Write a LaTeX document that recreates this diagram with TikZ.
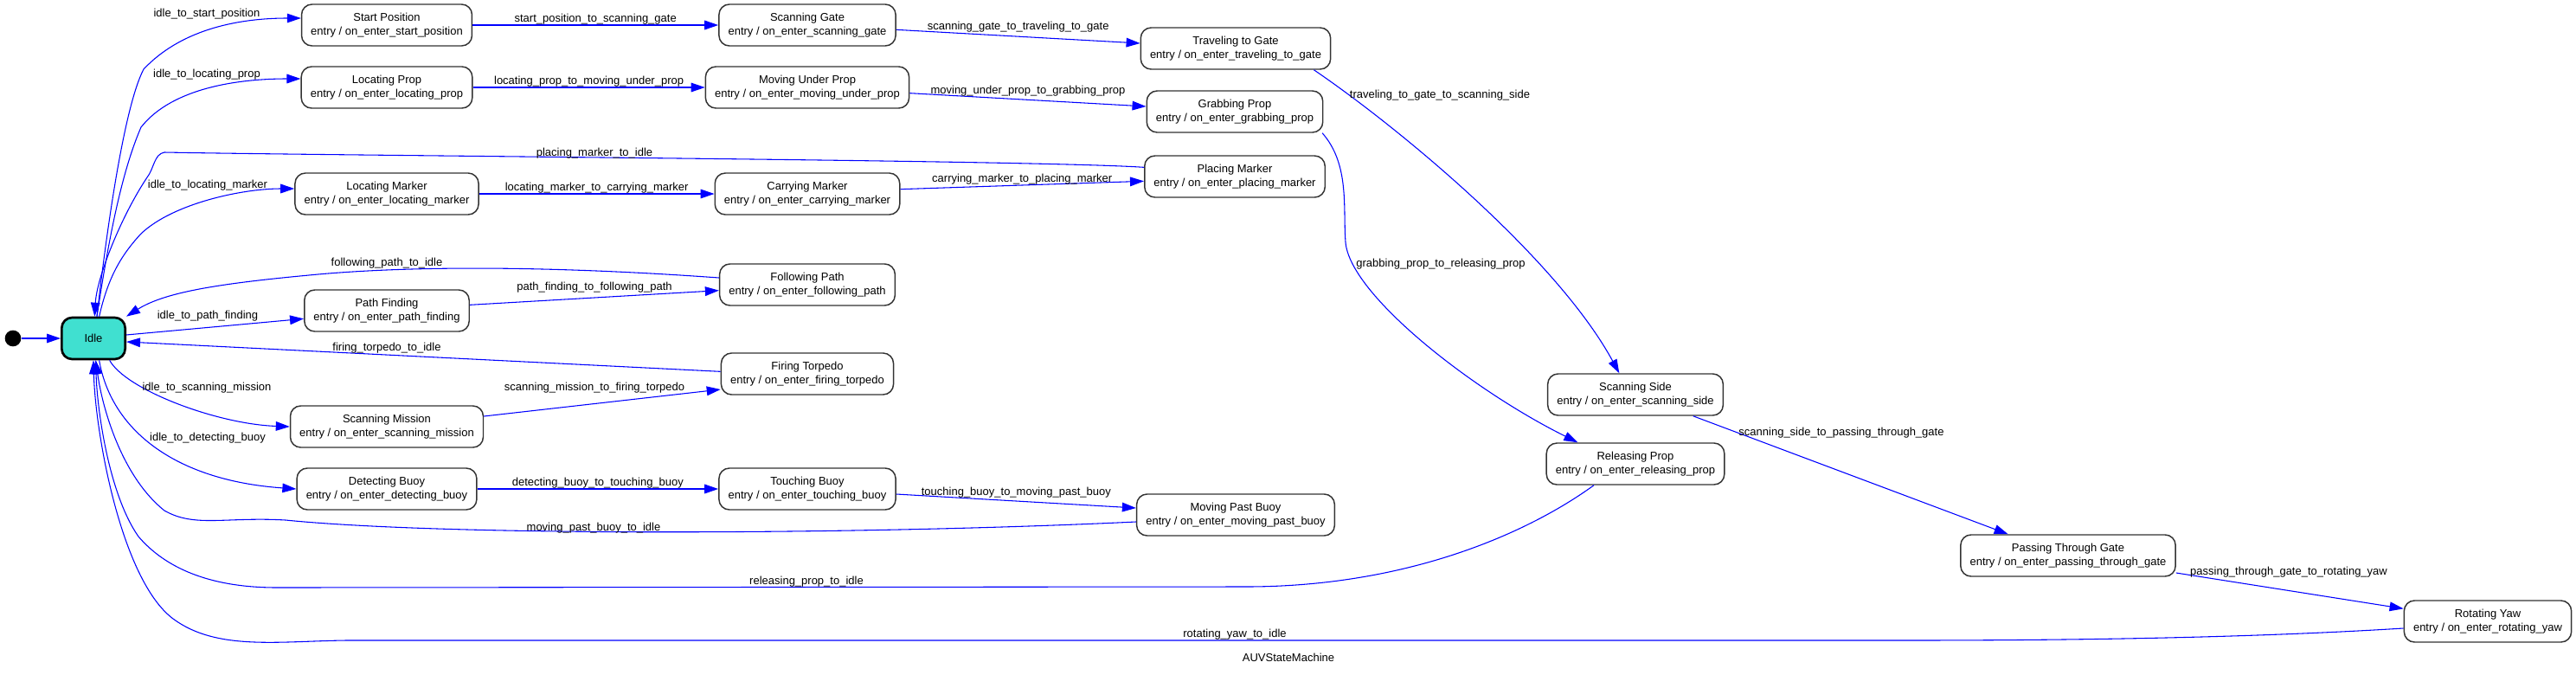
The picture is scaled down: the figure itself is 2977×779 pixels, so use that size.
\documentclass[tikz,border=0pt]{standalone}
\usepackage{fontspec}
\setmainfont{Liberation Sans}
\usepackage{tikz}
\usetikzlibrary{arrows.meta, positioning}
\definecolor{edgeBlue}{RGB}{0, 0, 255}
\definecolor{idleTurq}{RGB}{64, 224, 208}

\begin{document}
\begin{tikzpicture}[x=0.75pt, y=-0.75pt,
  st/.style={rectangle, rounded corners=9pt, draw=black!80, line width=1.1pt,
             fill=white, minimum height=36pt, inner xsep=8pt,
             align=center, font=\fontsize{9.75}{12}\selectfont},
  idlest/.style={st, fill=idleTurq, draw=black, line width=2pt, minimum width=55pt},
  initdot/.style={circle, fill=black, minimum size=14pt, inner sep=0pt},
  msg/.style={font=\fontsize{9.75}{12}\selectfont, text=black, inner sep=0.5pt},
  arr/.style={-{Triangle[length=12pt, width=8pt]}, edgeBlue, line width=0.8pt},
]
  \useasboundingbox (0,0) rectangle (2977,779);

  % States
  \node[initdot] (init) at (15,391) {};
  \node[idlest] (idle) at (108,391) {Idle};

  \node[st] (startpos)    at (447,29)  {Start Position\\entry / on\_enter\_start\_position};
  \node[st] (locprop)     at (447,101) {Locating Prop\\entry / on\_enter\_locating\_prop};
  \node[st] (locmarker)   at (447,224) {Locating Marker\\entry / on\_enter\_locating\_marker};
  \node[st] (pathfind)    at (447,359) {Path Finding\\entry / on\_enter\_path\_finding};
  \node[st] (scanmission) at (447,493) {Scanning Mission\\entry / on\_enter\_scanning\_mission};
  \node[st] (detbuoy)     at (447,565) {Detecting Buoy\\entry / on\_enter\_detecting\_buoy};

  \node[st] (scangate)    at (933,29)  {Scanning Gate\\entry / on\_enter\_scanning\_gate};
  \node[st] (moveunder)   at (933,101) {Moving Under Prop\\entry / on\_enter\_moving\_under\_prop};
  \node[st] (carrymarker) at (933,224) {Carrying Marker\\entry / on\_enter\_carrying\_marker};
  \node[st] (followpath)  at (933,329) {Following Path\\entry / on\_enter\_following\_path};
  \node[st] (firetorp)    at (933,432) {Firing Torpedo\\entry / on\_enter\_firing\_torpedo};
  \node[st] (touchbuoy)   at (933,565) {Touching Buoy\\entry / on\_enter\_touching\_buoy};

  \node[st] (travelgate)  at (1428,56)  {Traveling to Gate\\entry / on\_enter\_traveling\_to\_gate};
  \node[st] (grabprop)    at (1427,129) {Grabbing Prop\\entry / on\_enter\_grabbing\_prop};
  \node[st] (placemarker) at (1427,204) {Placing Marker\\entry / on\_enter\_placing\_marker};
  \node[st] (movepast)    at (1428,595) {Moving Past Buoy\\entry / on\_enter\_moving\_past\_buoy};

  \node[st] (scanside)    at (1890,456) {Scanning Side\\entry / on\_enter\_scanning\_side};
  \node[st] (releaseprop) at (1890,536) {Releasing Prop\\entry / on\_enter\_releasing\_prop};
  \node[st] (passgate)    at (2390,642) {Passing Through Gate\\entry / on\_enter\_passing\_through\_gate};
  \node[st] (rotyaw)      at (2875,718) {Rotating Yaw\\entry / on\_enter\_rotating\_yaw};

  \node[msg] (title) at (1489,760) {AUVStateMachine};

  % Out of Idle
  \draw[arr] (init) -- (idle);
  \draw[arr] ([xshift=3pt]idle.north) .. controls (125,250) and (145,120) .. (166,80)
    .. controls (215,28) and (290,21) .. ([yshift=6pt]startpos.west);
  \draw[arr] ([xshift=3pt]idle.north) .. controls (125,280) and (140,200) .. (163,147)
    .. controls (200,100) and (280,91) .. ([yshift=7.5pt]locprop.west);
  \draw[arr] ([xshift=5pt]idle.north) .. controls (125,320) and (140,295) .. (163,270)
    .. controls (200,235) and (280,218) .. ([yshift=4.5pt]locmarker.west);
  \draw[arr] ([yshift=3pt]idle.east) -- ([yshift=-7pt]pathfind.west);
  \draw[arr] ([xshift=14pt]idle.south) .. controls (145,450) and (250,490) .. (scanmission.west);
  \draw[arr] ([xshift=5pt]idle.south) .. controls (128,495) and (200,555) .. (detbuoy.west);

  % Chains
  \draw[arr] (startpos) -- node[msg, above]{start\_position\_to\_scanning\_gate} (scangate);
  \draw[arr] ([yshift=-4pt]scangate.east) -- node[msg, above=3pt]{scanning\_gate\_to\_traveling\_to\_gate} ([yshift=4.5pt]travelgate.west);
  \draw[arr] (locprop) -- node[msg, above]{locating\_prop\_to\_moving\_under\_prop} (moveunder);
  \draw[arr] ([yshift=-5pt]moveunder.east) -- node[msg, above=2pt]{moving\_under\_prop\_to\_grabbing\_prop} ([yshift=4.5pt]grabprop.west);
  \draw[arr] (locmarker) -- node[msg, above]{locating\_marker\_to\_carrying\_marker} (carrymarker);
  \draw[arr] ([yshift=4pt]carrymarker.east) -- node[msg, above]{carrying\_marker\_to\_placing\_marker} ([yshift=-4pt]placemarker.west);
  \draw[arr] ([yshift=5pt]pathfind.east) -- ([yshift=-5pt]followpath.west);
  \draw[arr] ([yshift=9pt]scanmission.east) -- ([yshift=-13.5pt]firetorp.west);
  \draw[arr] (detbuoy) -- node[msg, above]{detecting\_buoy\_to\_touching\_buoy} (touchbuoy);
  \draw[arr] ([yshift=-4.5pt]touchbuoy.east) -- node[msg, above=2pt]{touching\_buoy\_to\_moving\_past\_buoy} ([yshift=6pt]movepast.west);

  \draw[arr] ([xshift=-15pt]travelgate.south east) .. controls (1620,150) and (1800,300) .. ([xshift=-14pt]scanside.north);
  \draw[arr] ([xshift=-1pt]grabprop.south east) .. controls (1560,190) and (1552,240) .. (1555,280)
    .. controls (1560,340) and (1700,450) .. ([xshift=-50pt]releaseprop.north);
  \draw[arr] ([xshift=50pt]scanside.south) -- ([xshift=-52pt]passgate.north);
  \draw[arr] ([yshift=-15pt]passgate.east) -- ([yshift=11pt]rotyaw.west);

  % Back to Idle
  \draw[arr] ([yshift=8pt]placemarker.west) .. controls (1200,185) and (400,180) .. (190,176)
    .. controls (178,178) and (178,195) .. (170,205) .. controls (140,250) and (112,320) .. ([xshift=1pt]idle.north);
  \draw[arr] ([yshift=6pt]followpath.west) .. controls (650,308) and (480,306) .. (357,318)
    .. controls (250,328) and (190,338) .. (idle.north east);
  \draw[arr] ([yshift=2pt]firetorp.west) -- ([yshift=-3pt]idle.east);
  \draw[arr] ([yshift=-6pt]movepast.west) .. controls (1000,618) and (520,620) .. (330,601)
    .. controls (260,597) and (225,610) .. (190,590) .. controls (140,550) and (118,470) .. ([xshift=2pt]idle.south);
  \draw[arr] ([xshift=-36pt]releaseprop.south) .. controls (1760,620) and (1620,678) .. (1440,678) -- (320,679)
    .. controls (240,679) and (190,655) .. (160,620) .. controls (125,570) and (112,470) .. ([xshift=2pt]idle.south);
  \draw[arr] ([yshift=-6pt]rotyaw.west) .. controls (2600,737) and (2400,740) .. (2200,740) -- (400,740)
    .. controls (320,741) and (250,752) .. (200,715) .. controls (140,670) and (110,500) .. (idle.south);

  % Transition labels
  \node[msg] (l-idle-sp) at (239,16)  {idle\_to\_start\_position};
  \node[msg] (l-idle-lp) at (239,86)  {idle\_to\_locating\_prop};
  \node[msg] (l-idle-lm) at (240,214) {idle\_to\_locating\_marker};
  \node[msg] (l-idle-pf) at (240,365) {idle\_to\_path\_finding};
  \node[msg] (l-idle-sm) at (239,448) {idle\_to\_scanning\_mission};
  \node[msg] (l-idle-db) at (240,506) {idle\_to\_detecting\_buoy};
  \node[msg] (l-pm-idle) at (687,177) {placing\_marker\_to\_idle};
  \node[msg] (l-fp-idle) at (447,304) {following\_path\_to\_idle};
  \node[msg] (l-pf-fp)   at (687,332) {path\_finding\_to\_following\_path};
  \node[msg] (l-ft-idle) at (447,402) {firing\_torpedo\_to\_idle};
  \node[msg] (l-sm-ft)   at (687,448) {scanning\_mission\_to\_firing\_torpedo};
  \node[msg] (l-mp-idle) at (686,610) {moving\_past\_buoy\_to\_idle};
  \node[msg] (l-rp-idle) at (932,672) {releasing\_prop\_to\_idle};
  \node[msg] (l-ry-idle) at (1427,733) {rotating\_yaw\_to\_idle};
  \node[msg] (l-tg-ss)   at (1664,110) {traveling\_to\_gate\_to\_scanning\_side};
  \node[msg] (l-gp-rp)   at (1665,305) {grabbing\_prop\_to\_releasing\_prop};
  \node[msg] (l-ss-pg)   at (2128,500) {scanning\_side\_to\_passing\_through\_gate};
  \node[msg] (l-pg-ry)   at (2645,661) {passing\_through\_gate\_to\_rotating\_yaw};

\end{tikzpicture}
\end{document}
